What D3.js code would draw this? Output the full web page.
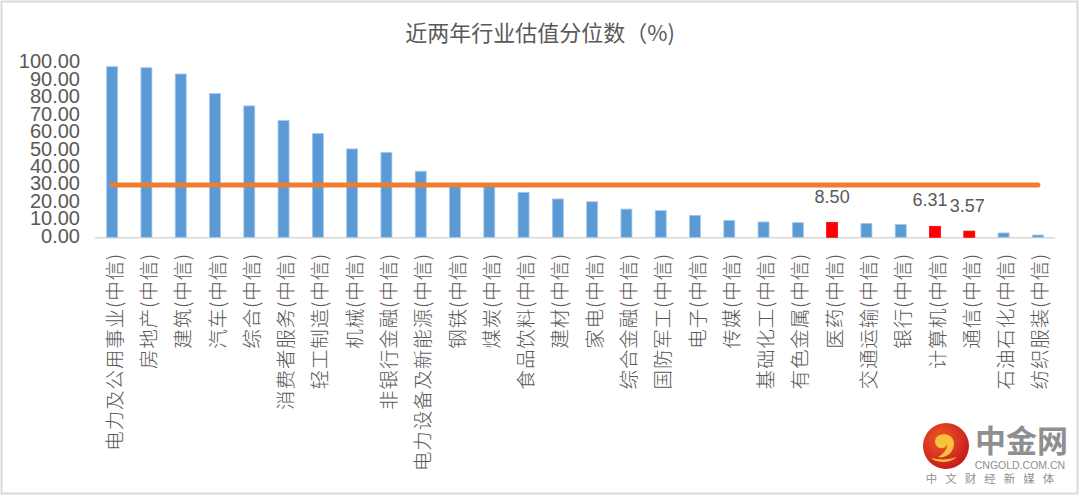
<!DOCTYPE html>
<html>
<head>
<meta charset="utf-8">
<script src="https://cdn.jsdelivr.net/npm/d3@7"></script>
<style>
  html, body { margin: 0; padding: 0; background: #fff; }
  svg { display: block; }
</style>
</head>
<body>
<svg id="chart" width="1080" height="496"></svg>
<script>
const categories = ["电力及公用事业(中信)","房地产(中信)","建筑(中信)","汽车(中信)","综合(中信)","消费者服务(中信)","轻工制造(中信)","机械(中信)","非银行金融(中信)","电力设备及新能源(中信)","钢铁(中信)","煤炭(中信)","食品饮料(中信)","建材(中信)","家电(中信)","综合金融(中信)","国防军工(中信)","电子(中信)","传媒(中信)","基础化工(中信)","有色金属(中信)","医药(中信)","交通运输(中信)","银行(中信)","计算机(中信)","通信(中信)","石油石化(中信)","纺织服装(中信)"];
const values = [97.9, 97.3, 93.7, 82.5, 75.4, 67.0, 59.6, 50.7, 48.7, 37.9, 29.9, 29.5, 25.8, 22.0, 20.4, 16.2, 15.3, 12.6, 9.7, 8.8, 8.4, 8.50, 8.0, 7.4, 6.31, 3.57, 2.5, 1.3];
const lineValues = categories.map(() => 30);
const highlighted = ["医药(中信)", "计算机(中信)", "通信(中信)"];
const yTicks = [0, 10, 20, 30, 40, 50, 60, 70, 80, 90, 100];
const title = "近两年行业估值分位数（%)";

const svg = d3.select("#chart");
const W = 1080, H = 496;
const cjk = "'Noto Sans CJK SC', 'Noto Sans', sans-serif";
const num = "'Liberation Sans', Arial, sans-serif";
const textColor = "#595959";

// outer border
svg.append("rect").attr("x", 1.5).attr("y", 1.5).attr("width", W - 4).attr("height", H - 4)
  .attr("fill", "#fff").attr("stroke", "#d9d9d9").attr("stroke-width", 2);

const x = d3.scaleBand().domain(categories).range([95, 1055]).padding(0);
const y = d3.scaleLinear().domain([0, 100]).range([237.3, 63]);
const barW = 11;

// title
svg.append("text").attr("x", 540).attr("y", 41).attr("text-anchor", "middle")
  .attr("font-family", cjk).attr("font-size", 22).attr("fill", textColor).text(title);

// y axis labels
const yAxis = d3.axisLeft(y).tickValues(yTicks).tickFormat(d3.format(".2f")).tickSize(0).tickPadding(0);
const yg = svg.append("g").attr("transform", "translate(80,-1.5)").call(yAxis);
yg.select(".domain").remove();
yg.selectAll("text").attr("font-family", num).attr("font-size", 20).attr("fill", textColor);

// baseline
svg.append("line").attr("x1", 95).attr("x2", 1055).attr("y1", y(0) + 0.5).attr("y2", y(0) + 0.5)
  .attr("stroke", "#d9d9d9").attr("stroke-width", 1.5);

// bars
svg.append("g").selectAll("rect").data(categories).join("rect")
  .attr("x", d => x(d) + x.bandwidth() / 2 - barW / 2)
  .attr("y", (d, i) => y(values[i]))
  .attr("width", barW)
  .attr("height", (d, i) => y(0) - y(values[i]))
  .attr("fill", d => highlighted.includes(d) ? "#ff0000" : "#5b9bd5")
  .attr("stroke", d => highlighted.includes(d) ? "#ff0000" : "#a9c8ea")
  .attr("stroke-width", 0.8);

// orange line
const line = d3.line().x((d, i) => x(categories[i]) + x.bandwidth() / 2).y(d => y(d));
svg.append("path").datum(lineValues).attr("d", line)
  .attr("fill", "none").attr("stroke", "#ed7d31").attr("stroke-width", 5).attr("stroke-linecap", "round");

// data labels
const labelOffsets = { "医药(中信)": [0, -19], "计算机(中信)": [-5, -20], "通信(中信)": [-2, -19] };
svg.append("g").selectAll("text").data(categories.filter(c => highlighted.includes(c))).join("text")
  .attr("x", d => x(d) + x.bandwidth() / 2 + labelOffsets[d][0])
  .attr("y", d => y(values[categories.indexOf(d)]) + labelOffsets[d][1])
  .attr("text-anchor", "middle").attr("font-family", num).attr("font-size", 18).attr("fill", textColor)
  .text(d => d3.format(".2f")(values[categories.indexOf(d)]));

// x labels (rotated)
const xg = svg.append("g");
categories.forEach(c => {
  xg.append("text")
    .attr("transform", `translate(${x(c) + x.bandwidth() / 2 + 1},253) rotate(-90)`)
    .attr("text-anchor", "end").attr("dominant-baseline", "central")
    .attr("font-family", cjk).attr("font-size", 19.5).attr("font-weight", 300).attr("fill", textColor)
    .attr("letter-spacing", 0.9)
    .text(c);
});

// watermark logo
const logo = svg.append("g");
const grad = svg.append("defs").append("radialGradient").attr("id", "lg").attr("cx", "40%").attr("cy", "35%").attr("r", "70%");
grad.append("stop").attr("offset", "0%").attr("stop-color", "#f05a28");
grad.append("stop").attr("offset", "100%").attr("stop-color", "#c4161c");
logo.append("circle").attr("cx", 946).attr("cy", 446).attr("r", 23).attr("fill", "url(#lg)");
logo.append("path")
  .attr("d", "M950,436 c-9,-5 -18,2 -14,9 c3,5 10,4 11,-1 c1,4 -3,10 -9,13 c9,2 16,-6 16,-13 c0,-3 -1,-6 -4,-8 z")
  .attr("fill", "#f7c23c");
logo.append("path")
  .attr("d", "M931,458 c6,5 18,6 26,-1 c-8,3 -17,3 -26,1 z").attr("fill", "#f7c23c");
logo.append("text").attr("x", 975).attr("y", 452).attr("font-family", cjk).attr("font-size", 31)
  .attr("font-weight", 700).attr("fill", "#8f8f8f").attr("letter-spacing", 0).text("中金网");
logo.append("text").attr("x", 1020).attr("y", 469).attr("text-anchor", "middle").attr("font-family", num)
  .attr("font-size", 10.5).attr("fill", "#8f8f8f").text("CNGOLD.COM.CN");
logo.append("text").attr("x", 994).attr("y", 483).attr("text-anchor", "middle").attr("font-family", cjk)
  .attr("font-size", 11.5).attr("fill", "#8f8f8f").attr("letter-spacing", 8).text("中文财经新媒体");
</script>
</body>
</html>
